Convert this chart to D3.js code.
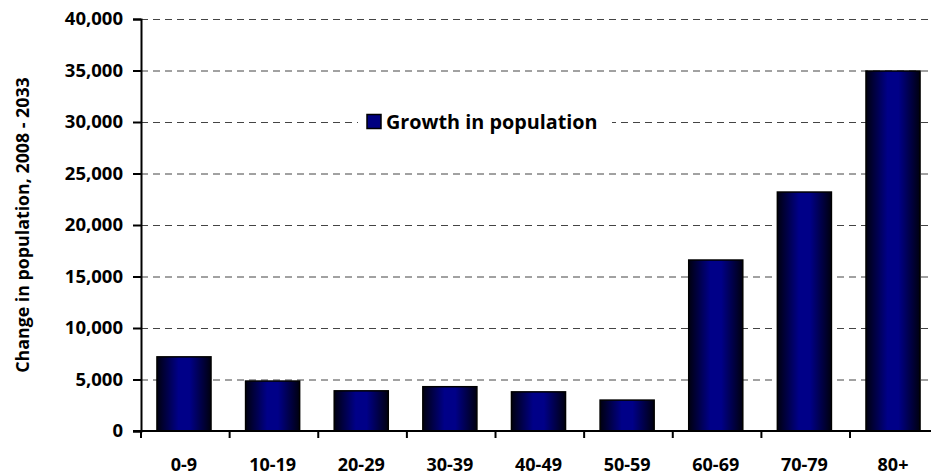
<!DOCTYPE html>
<html>
<head>
<meta charset="utf-8">
<script src="https://cdn.jsdelivr.net/npm/d3@7"></script>
<style>
  body { margin: 0; background: #fff; }
  svg { display: block; font-family: "Open Sans", sans-serif; font-weight: bold; }
</style>
</head>
<body>
<svg id="chart" width="931" height="476"></svg>
<script>
// data
var age_groups = ["0-9", "10-19", "20-29", "30-39", "40-49", "50-59", "60-69", "70-79", "80+"];
var growth = [7200, 4850, 3900, 4300, 3800, 3000, 16600, 23200, 34950];
var y_ticks = [0, 5000, 10000, 15000, 20000, 25000, 30000, 35000, 40000];
var series_name = "Growth in population";
var y_title = "Change in population, 2008 - 2033";

var svg = d3.select("#chart");

// plot area (right edge runs a bit past the window, as in the reference)
var plot_left = 141, plot_right = 936, plot_top = 19, plot_bottom = 431;

var x = d3.scaleBand().domain(age_groups).range([plot_left, plot_right]).paddingInner(0.39).paddingOuter(0.18);
var y = d3.scaleLinear().domain([0, 40000]).range([plot_bottom, plot_top]);

// gradient for the bars: dark edges, navy middle
var defs = svg.append("defs");
var grad = defs.append("linearGradient")
    .attr("id", "barGrad")
    .attr("x1", "0%").attr("y1", "0%")
    .attr("x2", "100%").attr("y2", "0%");
grad.append("stop").attr("offset", "0%").attr("stop-color", "#000010");
grad.append("stop").attr("offset", "40%").attr("stop-color", "#000088");
grad.append("stop").attr("offset", "60%").attr("stop-color", "#000088");
grad.append("stop").attr("offset", "100%").attr("stop-color", "#000010");

// gridlines
svg.append("g")
    .selectAll("line")
    .data(y_ticks.filter(function(d){ return d > 0; }))
    .join("line")
    .attr("x1", plot_left).attr("x2", 931)
    .attr("y1", function(d){ return y(d) + 0.5; })
    .attr("y2", function(d){ return y(d) + 0.5; })
    .attr("stroke", "#444")
    .attr("stroke-width", 1)
    .attr("stroke-dasharray", "7,5");

// legend (white box knocks out the gridline)
var legend = svg.append("g");
legend.append("rect").attr("x", 358).attr("y", 108).attr("width", 254).attr("height", 28).attr("fill", "#fff");
legend.append("rect").attr("x", 367).attr("y", 114.5).attr("width", 14).attr("height", 14)
    .attr("fill", "#000080").attr("stroke", "#000").attr("stroke-width", 1.5);
legend.append("text").attr("x", 386).attr("y", 129)
    .attr("font-size", 19.8).attr("fill", "#000").text(series_name);

// bars
svg.append("g")
    .selectAll("rect")
    .data(growth)
    .join("rect")
    .attr("x", function(d, i){ return x(age_groups[i]); })
    .attr("y", function(d){ return y(d); })
    .attr("width", x.bandwidth())
    .attr("height", function(d){ return plot_bottom - y(d); })
    .attr("fill", "url(#barGrad)")
    .attr("stroke", "#000")
    .attr("stroke-width", 1.5);

// y axis
var yAxis = svg.append("g")
    .attr("transform", "translate(" + plot_left + ",0)")
    .call(d3.axisLeft(y).tickValues(y_ticks).tickSize(8).tickPadding(10).tickFormat(d3.format(",")));
yAxis.select(".domain").attr("stroke", "#000").attr("stroke-width", 2);
yAxis.selectAll(".tick line").attr("stroke", "#000").attr("stroke-width", 2);
yAxis.selectAll("text").attr("font-size", 18.5).attr("font-family", "Open Sans").attr("font-weight", "bold").attr("fill", "#000");

// x axis with ticks at band boundaries
var xAxis = svg.append("g")
    .attr("transform", "translate(0," + plot_bottom + ")");
xAxis.append("line").attr("x1", plot_left - 8).attr("x2", 931).attr("y1", 0).attr("y2", 0)
    .attr("stroke", "#000").attr("stroke-width", 2);
var bounds = d3.range(age_groups.length + 1).map(function(i){ return plot_left + i * x.step(); });
xAxis.selectAll("line.tk").data(bounds).join("line").attr("class", "tk")
    .attr("x1", function(d){ return d; }).attr("x2", function(d){ return d; })
    .attr("y1", 0).attr("y2", 7)
    .attr("stroke", "#000").attr("stroke-width", 2);
xAxis.selectAll("text").data(age_groups).join("text")
    .attr("x", function(d){ return x(d) + x.bandwidth() / 2; })
    .attr("y", 40)
    .attr("text-anchor", "middle")
    .attr("font-size", 18)
    .attr("fill", "#000")
    .text(function(d){ return d; });

// y title
svg.append("text")
    .attr("transform", "translate(29,225) rotate(-90)")
    .attr("text-anchor", "middle")
    .attr("font-size", 17.8)
    .attr("fill", "#000")
    .text(y_title);
</script>
</body>
</html>
